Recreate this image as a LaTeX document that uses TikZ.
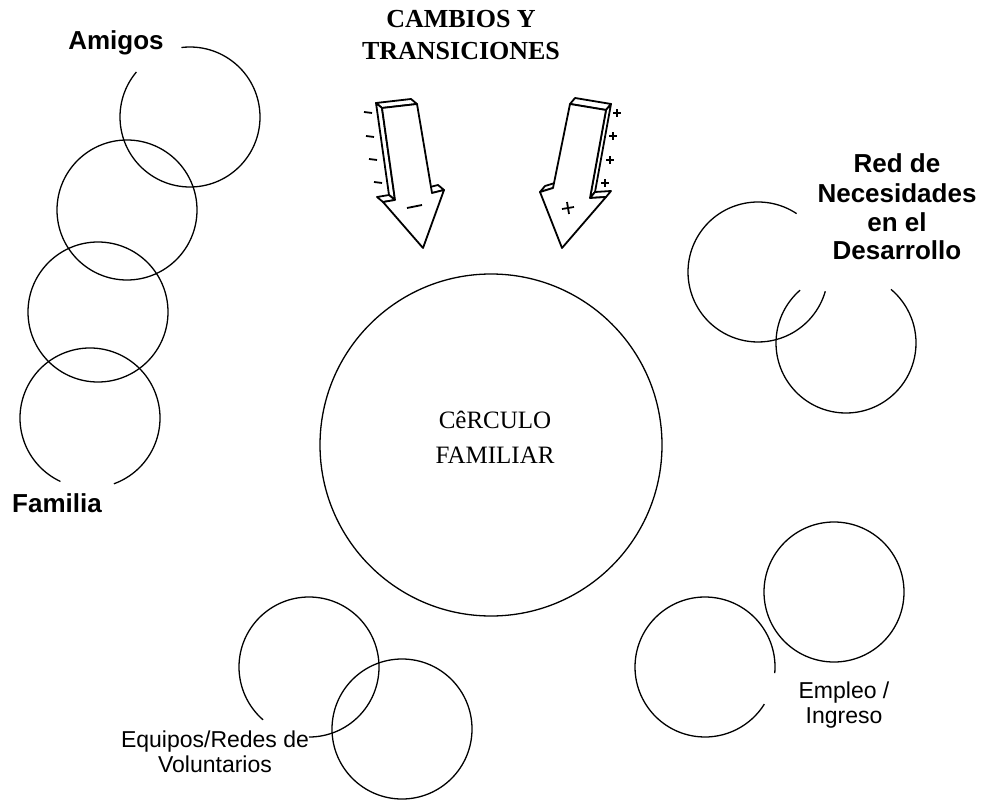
\documentclass[tikz,border=0pt]{standalone}
\usepackage{fontspec}
\setmainfont{Liberation Serif}
\setsansfont{Liberation Sans}
\tikzstyle{ring} = [line width=0.65pt]
\tikzstyle{face} = [draw=black, fill=white, line width=0.9pt, line join=round]
\tikzstyle{sign} = [line width=0.9pt]
\tikzstyle{boldlabel} = [font=\fontsize{13}{14.5}\selectfont\sffamily\bfseries,
    align=center, anchor=base, inner sep=0pt]
\tikzstyle{plainlabel} = [font=\fontsize{11.5}{12.5}\selectfont\sffamily,
    align=center, anchor=base, inner sep=0pt]
\tikzstyle{titlelabel} = [font=\fontsize{13}{16}\selectfont\bfseries,
    align=center, anchor=base, inner sep=0pt]
\tikzstyle{centerlabel} = [font=\fontsize{12.5}{17.5}\selectfont,
    align=center, anchor=base, inner sep=0pt]

\begin{document}
\begin{tikzpicture}[x=0.5pt, y=0.5pt]
    \useasboundingbox (0,0) rectangle (983,799);
    % Amigos / Familia
    \draw[ring] (190,682) ++(140:70) arc[start angle=140, end angle=457, radius=70];
    \draw[ring] (127,589) circle[radius=70];
    \draw[ring] (98,487) circle[radius=70];
    \draw[ring] (90,381) ++(290:70) arc[start angle=290, end angle=605, radius=70];
    \node[boldlabel] (amigos) at (116,749) {Amigos};
    \node[boldlabel] (familia) at (57,287) {Familia};
    % Circulo familiar
    \draw[ring] (491,354) circle[radius=171];
    \node[centerlabel] (circulo) at (495,336) {CêRCULO\\FAMILIAR};
    % Red de necesidades
    \draw[ring] (758,527) ++(56.5:70) arc[start angle=56.5, end angle=344, radius=70];
    \draw[ring] (846,456) ++(131:70) arc[start angle=131, end angle=410, radius=70];
    \node[boldlabel] (red) at (897,539) {Red de\\Necesidades\\en el\\Desarrollo};
    % Empleo
    \draw[ring] (834,207) circle[radius=70];
    \draw[ring] (705,132) ++(-5:70) arc[start angle=-5, end angle=328, radius=70];
    \node[plainlabel] (empleo) at (844,76) {Empleo /\\Ingreso};
    % Equipos
    \draw[ring] (309,132) ++(270:70) arc[start angle=270, end angle=589, radius=70];
    \draw[ring] (402,70) circle[radius=70];
    \node[plainlabel] (equipos) at (215,27) {Equipos/Redes de\\Voluntarios};
    % Cambios y transiciones
    \node[titlelabel] (cambios) at (461,739) {CAMBIOS Y\\TRANSICIONES};
    % Left arrow (-)
    \draw[face] (376,696) -- (411,700) -- (417,695) -- (382,691) -- cycle;
    \draw[face] (376,696) -- (382,691) -- (395,599) -- (389,604) -- cycle;
    \draw[face] (377,602) -- (389,604) -- (395,599) -- (383,597) -- cycle;
    \draw[face] (426,611) -- (438,614) -- (444,609) -- (432,606) -- cycle;
    \draw[face] (382,691) -- (417,695) -- (432,606) -- (444,609) -- (423,551)
        -- (383,597) -- (395,599) -- cycle;
    \draw[sign] (364,687) -- (372,686);
    \draw[sign] (366,663) -- (374,662);
    \draw[sign] (369,640) -- (377,639);
    \draw[sign] (374,617) -- (382,616);
    \draw[sign] (407,591) -- (422,594);
    % Right arrow (+)
    \draw[face] (570,695) -- (575,701) -- (611,695) -- (606,689) -- cycle;
    \draw[face] (606,689) -- (611,695) -- (595,607) -- (590,601) -- cycle;
    \draw[face] (590,601) -- (595,607) -- (611,608) -- (606,602) -- cycle;
    \draw[face] (540,607) -- (545,613) -- (558,617) -- (553,611) -- cycle;
    \draw[face] (570,695) -- (606,689) -- (590,601) -- (606,602) -- (562,551)
        -- (540,607) -- (553,611) -- cycle;
    \draw[sign] (613,686) -- (621,686) (617,682) -- (617,690);
    \draw[sign] (609,663) -- (617,663) (613,659) -- (613,667);
    \draw[sign] (606,639) -- (614,639) (610,635) -- (610,643);
    \draw[sign] (601,616) -- (609,616) (605,612) -- (605,620);
    \draw[sign] (562,590) -- (574,592) (567,597) -- (569,585);
\end{tikzpicture}
\end{document}
